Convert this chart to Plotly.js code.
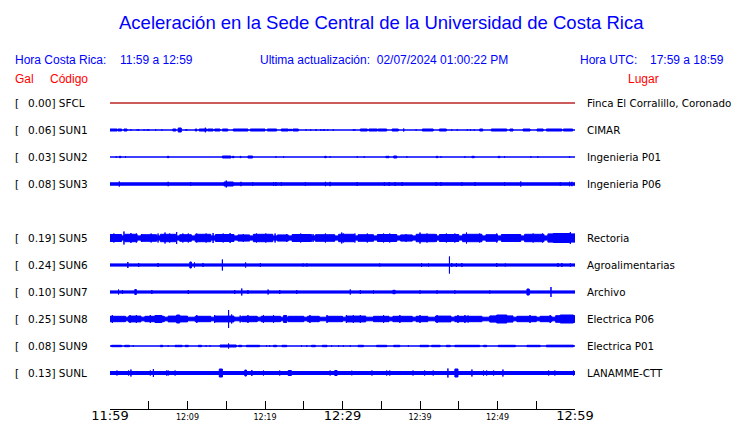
<!DOCTYPE html>
<html><head><meta charset="utf-8">
<script src="https://cdn.plot.ly/plotly-3.0.1.min.js"></script>
<style>html,body{margin:0;padding:0;background:#fff}</style>
</head><body><div id="chart" style="width:740px;height:423px"></div>
<script>
// ---- data ----
const stationCodes = ['SFCL','SUN1','SUN2','SUN3','SUN5','SUN6','SUN7','SUN8','SUN9','SUNL'];
const stationSlots = [0,1,2,3,5,6,7,8,9,10];   // SUN4 slot (4) is empty
const peakGal = [0.00,0.06,0.03,0.08,0.19,0.24,0.10,0.25,0.08,0.13];
const places = ['Finca El Corralillo, Coronado','CIMAR','Ingenieria P01','Ingenieria P06','Rectoria','Agroalimentarias','Archivo','Electrica P06','Electrica P01','LANAMME-CTT'];
const baseAmp = [0.5,0.5,0.5,1.7,2.6,1.6,1.6,2.3,0.5,2.0];
const traceColors = ['#b00000','#0000ff','#0000ff','#0000ff','#0000ff','#0000ff','#0000ff','#0000ff','#0000ff','#0000ff'];
const tickMinutes = [0,5,10,15,20,25,30,35,40,45,50,55,60];
const tickLabels = ['11:59','','12:09','','12:19','','12:29','','12:39','','12:49','','12:59'];
const majorTicks = ['11:59','12:29','12:59'];

// bursts: [start minute, end minute, half amplitude]
const burstsSFCL = [];
const burstsSUN1 = [[0,0.9,1.5],[1.0,1.5,1.5],[1.8,2.2,1.5],[2.7,2.7,1.2],[3.5,3.5,1.2],[3.7,3.7,1.2],[4.4,4.4,1.2],[4.8,4.8,1.2],[5.0,5.0,1.2],[5.9,5.9,1.2],[6.7,6.7,1.2],[8.1,8.5,1.5],[8.8,9.2,2.5],[9.8,9.8,1.2],[9.9,9.9,1.2],[11.0,11.2,1.5],[11.5,12.5,1.5],[12.3,12.3,2.8],[12.6,13.3,1.5],[13.5,14.2,1.5],[14.5,15.2,1.5],[15.9,17.8,1.5],[18.1,20.0,1.5],[20.3,21.5,1.5],[22.1,23.0,1.5],[23.1,23.5,1.2],[23.6,24.3,1.5],[25.3,25.3,1.2],[25.9,25.9,1.2],[26.6,26.6,1.5],[27.2,27.2,1.2],[27.5,27.5,1.2],[27.7,27.7,1.2],[28.1,28.1,1.2],[28.8,28.8,1.2],[31.4,31.4,1.2],[31.6,31.6,1.2],[32.3,33.2,1.5],[33.4,34.5,1.5],[34.6,35.7,1.5],[36.4,37.2,1.5],[37.9,37.9,2],[39.5,39.5,1.2],[40.3,41.7,1.5],[42.5,43.4,1.5],[44.1,44.1,1.2],[44.8,44.8,1.2],[46.1,46.1,1.2],[46.5,46.5,1.2],[47.0,47.0,1.2],[47.7,48.1,1.5],[49.2,51.2,1.5],[51.6,52.0,1.5],[53.3,54.2,1.5],[55.1,55.9,1.5],[56.3,58.3,1.5],[58.5,59.7,1.5]];
const burstsSUN2 = [[0.8,0.8,1.2],[1.2,1.4,1.2],[2.0,2.0,1.2],[7.4,7.6,1.2],[14.5,15.6,1.5],[15.8,16.0,1.2],[16.8,16.9,1.2],[17.8,18.4,1.5],[21.4,21.4,1.2],[22.4,22.4,1.2],[27.7,27.9,1.2],[28.4,28.4,1.2],[31.9,31.9,1.2],[32.8,32.8,1.2],[35.6,36.0,1.2],[36.6,37.0,1.5],[38.3,38.3,1.2],[42.1,42.3,1.2],[42.7,42.7,1.2],[45.8,45.8,1.2],[46.7,47.0,1.2],[50.1,50.3,1.2],[50.9,50.9,1.2],[54.3,54.3,1.2],[55.2,55.2,1.2],[59.3,59.3,1.2]];
const burstsSUN3 = [[1.2,1.2,3],[7.5,7.5,2.7],[10.4,10.4,2.5],[14.7,15.9,2.5],[15.0,15.0,4],[16.9,16.9,2.7],[18.4,18.4,2.5],[21.1,21.1,2.5],[21.4,21.4,2.5],[22.1,22.1,2.5],[25.2,25.2,2.3],[27.8,27.8,2.7],[28.4,28.4,2.7],[31.9,31.9,2.5],[35.4,35.4,2.5],[36.0,36.0,2.5],[36.8,36.8,2.5],[37.7,37.7,2.5],[42.1,42.1,2.5],[42.7,42.7,2.5],[45.4,45.4,2.3],[47.1,47.1,2.5],[50.9,50.9,2.5],[53.0,53.0,3],[58.1,58.1,2.5],[59.3,59.3,2.7],[59.6,59.6,2.7]];
const burstsSUN5 = [[0,1.5,4],[1.9,3.5,4.2],[4,6,3.8],[6.5,8.5,4.2],[9,10.5,3.8],[11,13,4.2],[13.6,16,4],[16.5,18,3.6],[18.5,21,4.2],[21.6,23,3.6],[23.5,26,4],[26.5,29,3.8],[29.5,31.5,4.2],[32,34,3.8],[34.5,37,4],[37.5,39,3.6],[39.5,42,4.2],[42.5,45,4],[45.5,48,4.2],[48.5,50,3.8],[50.5,53,4],[53.5,56,4.2],[56.5,60,4.6],[0.5,0.5,5],[1.8,1.8,7],[2.7,2.7,5.5],[3.4,3.4,5],[4.1,4.1,4.5],[5.3,5.3,5],[6.2,6.2,5],[7.1,7.1,6],[7.7,7.7,5],[8.6,8.6,6.5],[9.4,9.4,5],[10.1,10.1,5],[11.2,11.2,5],[12.4,12.4,5],[13.3,13.3,5.5],[14.6,14.6,5],[15.5,15.5,5.5],[17.2,17.2,4.5],[18.9,18.9,5],[20.1,20.1,5],[21.3,21.3,5],[22.8,22.8,4.5],[24.6,24.6,5],[26.2,26.2,4.5],[27.8,27.8,5],[29.9,29.9,6],[30.1,30.1,5],[31.6,31.6,5],[33.2,33.2,5],[35.3,35.3,5],[36.1,36.1,5],[38.2,38.2,4.5],[40.0,40.0,6],[40.9,40.9,5],[42.1,42.1,4.5],[43.4,43.4,5],[44.5,44.5,5],[46.0,46.0,6],[47.7,47.7,5],[49.9,49.9,5],[51.4,51.4,4.5],[52.7,52.7,4.5],[54.6,54.6,5],[55.8,55.8,5],[57.2,59.4,5],[59.4,59.4,6.5]];
const burstsSUN6 = [[2.3,2.3,3.5],[3.7,3.7,2.5],[6.2,6.2,2.5],[10.3,10.5,3.5],[10.9,10.9,3],[12.0,12.0,2.5],[14.5,14.5,6],[17.5,17.5,3],[19.4,19.4,2.5],[24.9,24.9,2],[25.4,25.4,2],[34.8,34.8,2],[40.2,40.2,2.5],[41.1,41.1,2],[43.8,43.8,9],[44.1,44.1,2.5],[44.7,44.7,2.5],[45.4,45.4,2.5],[49.9,49.9,2.5],[51.0,51.0,2],[57.8,57.8,2.5],[58.3,58.3,2.5],[59.4,59.4,2.2]];
const burstsSUN7 = [[1.1,1.1,3],[1.6,1.6,2.5],[3.2,3.4,3],[5.4,5.4,2.5],[10.1,10.1,2.5],[16.1,16.1,2.5],[17.0,17.0,4],[17.8,17.8,2.5],[20.4,20.4,3],[21.9,21.9,2.5],[24.1,24.1,2.5],[31.0,31.0,3],[32.3,32.3,2.5],[34.0,34.0,2.2],[36.5,36.8,2.2],[40.0,40.0,2.2],[42.2,42.2,2.2],[44.5,44.5,2.2],[49.0,49.0,2],[53.8,54.1,3.5],[56.9,56.9,5.5]];
const burstsSUN8 = [[0,2,3.2],[2.4,4,3.4],[4.5,7,3.2],[7.5,10,3.4],[11,13,3.2],[13.5,16,3.4],[17,19,3.2],[19.5,22,3.2],[23,25,3.2],[25.5,27,3.2],[28,30,3.2],[30.5,33,3.4],[34,36,3.2],[36.5,39,3.2],[39.5,41,3.2],[42,44,3.4],[44.5,48,3.2],[49,52,3.6],[52.5,55,3.2],[55.5,57,3.2],[57.5,60,3.8],[0.3,0.3,4.5],[2.6,2.6,4.5],[3.4,3.4,4.5],[5.2,5.2,4.5],[5.8,6.7,4],[8.6,9.0,4.5],[11.2,11.2,4.5],[13.5,13.5,4.5],[15.3,15.3,9.5],[15.7,15.7,5],[16.8,16.8,4],[17.8,17.8,4.5],[19.8,19.8,4.5],[21.1,21.1,4.5],[22.4,22.8,4],[25.8,25.8,4.5],[28.0,28.0,4.5],[30.5,30.5,4.5],[31.4,31.4,4.5],[32.3,32.3,4.5],[35.3,35.3,4.5],[37.4,37.4,4.5],[40.0,40.0,4.5],[42.2,42.2,4.5],[44.9,44.9,4.5],[45.8,45.8,4.5],[46.2,46.2,4],[49.9,51.2,4.5],[54.2,54.2,4.5],[56.8,56.8,4.5],[58.1,59.8,4.5]];
const burstsSUN9 = [[0.2,1.5,1.2],[1.9,2.5,1.2],[3.0,3.0,1.2],[6.5,6.8,1.2],[7.5,7.5,1.2],[8.4,9.3,1.2],[9.7,10.1,1.2],[11.4,11.8,1.2],[12.4,12.4,1.2],[12.9,12.9,1.2],[14.2,16.3,1.5],[15.3,15.3,3],[16.6,17.0,1.2],[17.6,19.3,1.2],[20.2,20.2,1.2],[20.6,20.6,1.2],[21.1,21.5,1.2],[22.2,22.8,1.2],[24.7,24.7,1.2],[25.4,25.4,1.2],[26.0,26.5,1.2],[27.4,28.0,1.2],[28.6,28.6,1.2],[29.5,29.5,1.2],[30.1,30.1,1.2],[31.0,31.0,1.2],[32.0,32.7,1.2],[34.4,35.7,1.2],[36.6,37.4,1.2],[38.5,38.5,1.2],[40.0,41.1,1.2],[41.5,42.6,1.2],[43.4,43.9,1.2],[44.5,47.7,1.2],[48.2,48.6,1.2],[50.1,52.3,1.2],[53.8,55.5,1.2],[56.3,59.8,1.3]];
const burstsSUNL = [[0.9,0.9,3],[1.9,1.9,2.5],[2.4,2.4,3],[2.7,2.7,4],[5.2,5.2,3],[5.6,5.6,4.5],[7.3,7.3,3],[7.5,7.5,3],[8.4,8.4,3],[14.1,14.5,4.5],[17.4,17.6,3.5],[18.3,18.3,3.5],[19.8,19.8,3],[21.9,21.9,3],[23.0,23.4,3],[28.4,28.4,3],[29.0,29.3,3],[31.2,31.2,2.8],[33.8,33.8,3],[35.7,35.7,3],[36.1,36.1,3],[39.1,39.1,3],[40.6,40.6,3],[41.7,41.7,3],[43.6,43.6,5],[44.5,44.9,4.5],[46.7,46.7,4],[48.2,48.2,3],[48.6,48.6,3],[49.5,49.5,3],[50.7,50.7,4],[56.6,56.6,3],[57.4,57.4,3],[59.8,59.8,3]];
const allBursts = [burstsSFCL,burstsSUN1,burstsSUN2,burstsSUN3,burstsSUN5,burstsSUN6,burstsSUN7,burstsSUN8,burstsSUN9,burstsSUNL];

// ---- drawing ----
const ROW = 27;                 // axis units between station rows
const W = 740, H = 423, L = 110, R = 575, T = 90, B = 409;
const px = x => (x - L) / (R - L);
const py = y => (B - y) / (B - T);

const traces = [];
stationCodes.forEach((code, i) => {
  const c = stationSlots[i] * ROW;
  const xs = [], ys = [];
  const segs = [[0, 60, baseAmp[i]]].concat(allBursts[i]);
  segs.forEach(([t0, t1, a]) => {
    const h = Math.max(a - 0.5, 0);
    xs.push(t0, t1, t1, t0, t0, null);
    ys.push(c - h, c - h, c + h, c + h, c - h, null);
  });
  traces.push({
    type: 'scatter', mode: 'lines', x: xs, y: ys,
    fill: 'toself', fillcolor: traceColors[i], connectgaps: false,
    line: {color: traceColors[i], width: i === 0 ? 0.8 : 1}, hoverinfo: 'skip', showlegend: false
  });
});

const blue = '#0000ff', red = '#ff0000';
const sans = 'Liberation Sans, Arial, sans-serif';
const dv = 'DejaVu Sans, sans-serif';
const ann = [];
function add(text, x, y, size, color, family, anchor) {
  ann.push({text, xref: 'paper', yref: 'paper', x: px(x), y: py(y), xanchor: anchor || 'left',
    yanchor: 'middle', showarrow: false, borderpad: 0, font: {size, color, family}});
}
add('Aceleración en la Sede Central de la Universidad de Costa Rica', 381, 22, 18.5, blue, sans, 'center');
add('Hora Costa Rica:', 14, 60, 12, blue, sans);
add('11:59 a 12:59', 119, 60, 12, blue, sans);
add('Ultima actualización:  02/07/2024 01:00:22 PM', 259, 60, 12, blue, sans);
add('Hora UTC:', 579, 60, 12, blue, sans);
add('17:59 a 18:59', 649, 60, 12, blue, sans);
add('Gal', 14, 79, 12, red, sans);
add('Código', 49, 79, 12, red, sans);
add('Lugar', 627, 79, 12, red, sans);
stationCodes.forEach((code, i) => {
  const c = stationSlots[i] * ROW;
  const f = {size: 10.5, color: '#000', family: dv};
  ann.push({text: '[', xref: 'paper', yref: 'y', x: px(14), y: c, xanchor: 'left', yanchor: 'middle',
    showarrow: false, borderpad: 0, font: f});
  ann.push({text: peakGal[i].toFixed(2) + '] ' + code, xref: 'paper', yref: 'y', x: px(27), y: c,
    xanchor: 'left', yanchor: 'middle', showarrow: false, borderpad: 0, font: f});
  ann.push({text: places[i], xref: 'paper', yref: 'y', x: px(586), y: c, xanchor: 'left', yanchor: 'middle',
    showarrow: false, borderpad: 0, font: {size: 10.3, color: '#000', family: dv}});
});

const tickText = tickLabels.map(s => majorTicks.includes(s) ? '<span style="font-size:13px">' + s + '</span>' : s);

const layout = {
  width: W, height: H, margin: {l: L, r: W - R, t: T, b: H - B, pad: 0},
  paper_bgcolor: '#fff', plot_bgcolor: '#fff', showlegend: false,
  xaxis: {range: [0, 60], showgrid: false, zeroline: false, showline: true, linecolor: '#000', linewidth: 1,
    ticks: 'inside', ticklen: 8, tickwidth: 1, tickcolor: '#000', tickmode: 'array',
    tickvals: tickMinutes, ticktext: tickText, tickfont: {family: dv, size: 8, color: '#000'}, fixedrange: true},
  yaxis: {range: [(B - T) - 13, -13], visible: false, fixedrange: true},
  annotations: ann
};
Plotly.newPlot('chart', traces, layout, {staticPlot: true, displayModeBar: false});
</script></body></html>
